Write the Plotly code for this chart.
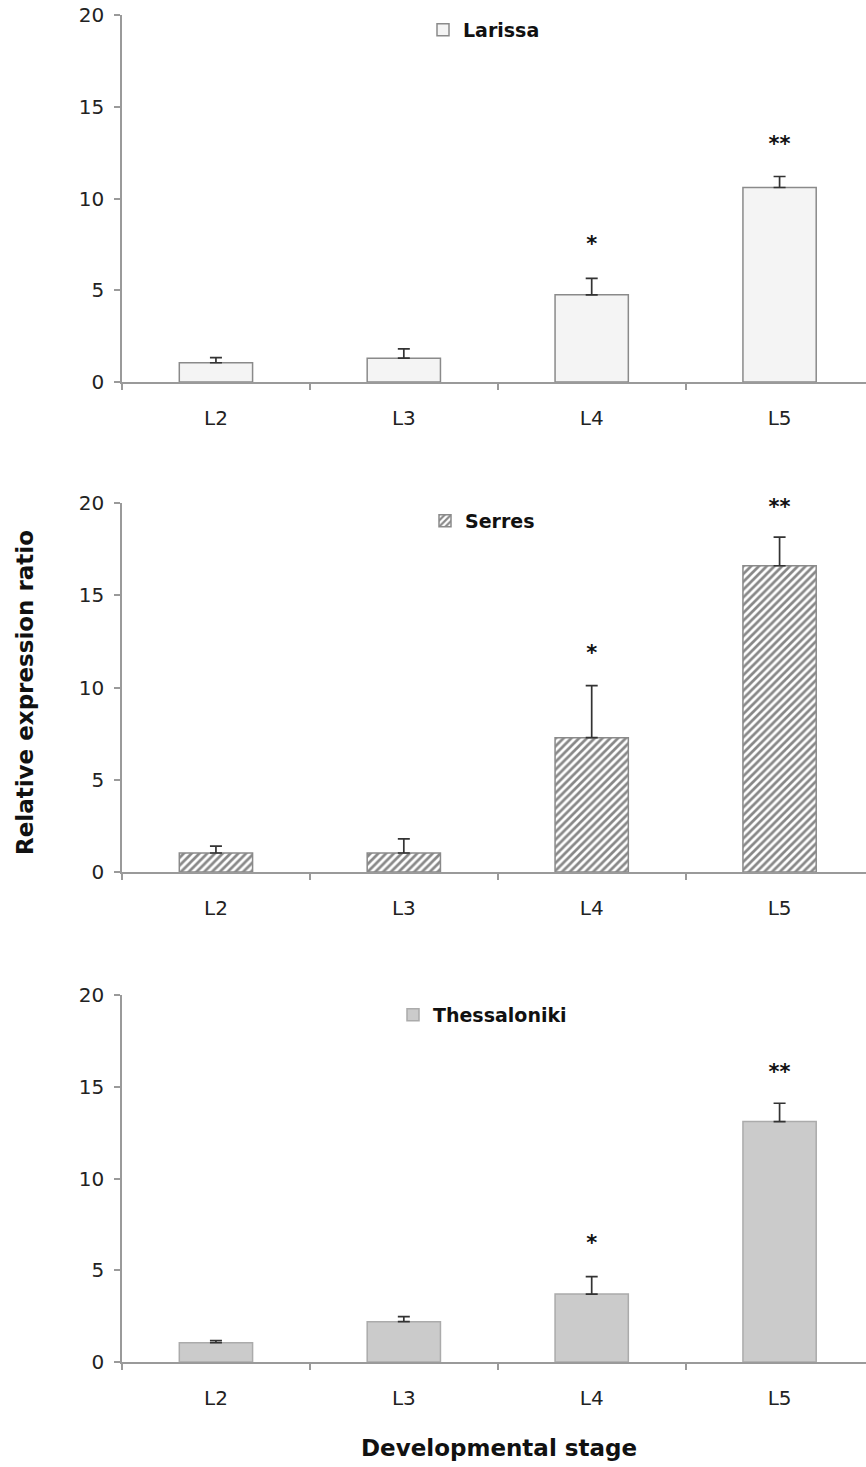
import plotly.graph_objects as go

# ---- data ----
stages = ["L2", "L3", "L4", "L5"]

larissa = [1.05, 1.3, 4.75, 10.6]
larissa_err = [0.28, 0.5, 0.9, 0.6]
larissa_sig = ["", "", "*", "**"]
larissa_sig_y = [None, None, 7.4, 12.9]

serres = [1.03, 1.03, 7.28, 16.6]
serres_err = [0.37, 0.77, 2.82, 1.55]
serres_sig = ["", "", "*", "**"]
serres_sig_y = [None, None, 11.8, 19.7]

thess = [1.05, 2.2, 3.7, 13.1]
thess_err = [0.12, 0.27, 0.95, 1.0]
thess_sig = ["", "", "*", "**"]
thess_sig_y = [None, None, 6.4, 15.7]

W, H = 866, 1467
FONT = "DejaVu Sans"
AXCOL = "#9a9a9a"

fig = go.Figure()

panels = [
    ("Larissa", larissa, larissa_err, larissa_sig, larissa_sig_y,
     dict(color="#f4f4f4", line=dict(color="#8a8a8a", width=1.5)), "x", "y", "legend"),
    ("Serres", serres, serres_err, serres_sig, serres_sig_y,
     dict(color="white", line=dict(color="#8a8a8a", width=1.5),
          pattern=dict(shape="/", fgcolor="#111111", bgcolor="white", size=5.5, solidity=0.5)),
     "x2", "y2", "legend2"),
    ("Thessaloniki", thess, thess_err, thess_sig, thess_sig_y,
     dict(color="#cbcbcb", line=dict(color="#ababab", width=1.5)), "x3", "y3", "legend3"),
]

for name, vals, errs, sig, sig_y, marker, xa, ya, lg in panels:
    fig.add_trace(go.Bar(
        x=stages, y=vals, name=name, width=0.39, marker=marker,
        error_y=dict(type="data", symmetric=False, array=errs,
                     arrayminus=[0] * len(errs), color="#333333",
                     thickness=1.7, width=6),
        xaxis=xa, yaxis=ya, legend=lg, showlegend=True,
    ))
    fig.add_trace(go.Scatter(
        x=stages, y=sig_y, mode="text", text=sig,
        textfont=dict(family=FONT, size=21, color="#111111", weight="bold"),
        xaxis=xa, yaxis=ya, showlegend=False, cliponaxis=False, hoverinfo="skip",
    ))

# vertical domains (pixel positions of 0 and 20 in each panel)
doms = [(382, 15), (872, 503), (1362, 995)]

def xaxis_cfg():
    return dict(
        type="category", categoryorder="array", categoryarray=stages,
        range=[-0.5, 3.46], showline=True, linecolor=AXCOL, linewidth=1.5,
        ticks="outside", tickson="boundaries", ticklen=6, tickcolor=AXCOL, tickwidth=1.5,
        showgrid=False, zeroline=False, automargin=False,
        tickfont=dict(family=FONT, size=20, color="#222222"),
        ticklabelstandoff=17,
    )

def yaxis_cfg(dom):
    return dict(
        domain=[1 - dom[0] / H, 1 - dom[1] / H],
        range=[0, 20], tickvals=[0, 5, 10, 15, 20],
        showline=True, linecolor=AXCOL, linewidth=1.5,
        ticks="outside", ticklen=6, tickcolor=AXCOL, tickwidth=1.5,
        showgrid=False, zeroline=False, automargin=False,
        tickfont=dict(family=FONT, size=20, color="#222222"),
        ticklabelstandoff=6,
    )

layout = dict(
    width=W, height=H,
    margin=dict(l=122, r=0, t=0, b=0, autoexpand=False),
    paper_bgcolor="white", plot_bgcolor="white",
    barmode="group",
)
layout["xaxis"] = dict(xaxis_cfg(), anchor="y")
layout["yaxis"] = dict(yaxis_cfg(doms[0]), anchor="x")
layout["xaxis2"] = dict(xaxis_cfg(), anchor="y2")
layout["yaxis2"] = dict(yaxis_cfg(doms[1]), anchor="x2")
layout["xaxis3"] = dict(xaxis_cfg(), anchor="y3")
layout["yaxis3"] = dict(yaxis_cfg(doms[2]), anchor="x3")

def legend_cfg(text_left_px, center_y_px):
    return dict(
        x=(text_left_px - 40 - 122) / (W - 122), xanchor="left",
        y=1 - center_y_px / H, yanchor="middle",
        bgcolor="rgba(0,0,0,0)", borderwidth=0,
        font=dict(family=FONT, size=19, color="#111111", weight="bold"),
    )

layout["legend"] = legend_cfg(463, 30)
layout["legend2"] = legend_cfg(465, 521)
layout["legend3"] = legend_cfg(433, 1015)

fig.update_layout(**layout)

fig.add_annotation(
    text="Relative expression ratio", xref="paper", yref="paper",
    x=(25 - 122) / (W - 122), y=1 - 693 / H, xanchor="center", yanchor="middle",
    textangle=-90, showarrow=False,
    font=dict(family=FONT, size=23, color="#111111", weight="bold"),
)
fig.add_annotation(
    text="Developmental stage", xref="paper", yref="paper",
    x=(499 - 122) / (W - 122), y=1 - 1448 / H, xanchor="center", yanchor="middle",
    showarrow=False,
    font=dict(family=FONT, size=23, color="#111111", weight="bold"),
)

fig.write_html(
    "out.html",
    config={"displayModeBar": False},
    post_script="document.body.style.margin='0';document.body.style.padding='0';",
)
